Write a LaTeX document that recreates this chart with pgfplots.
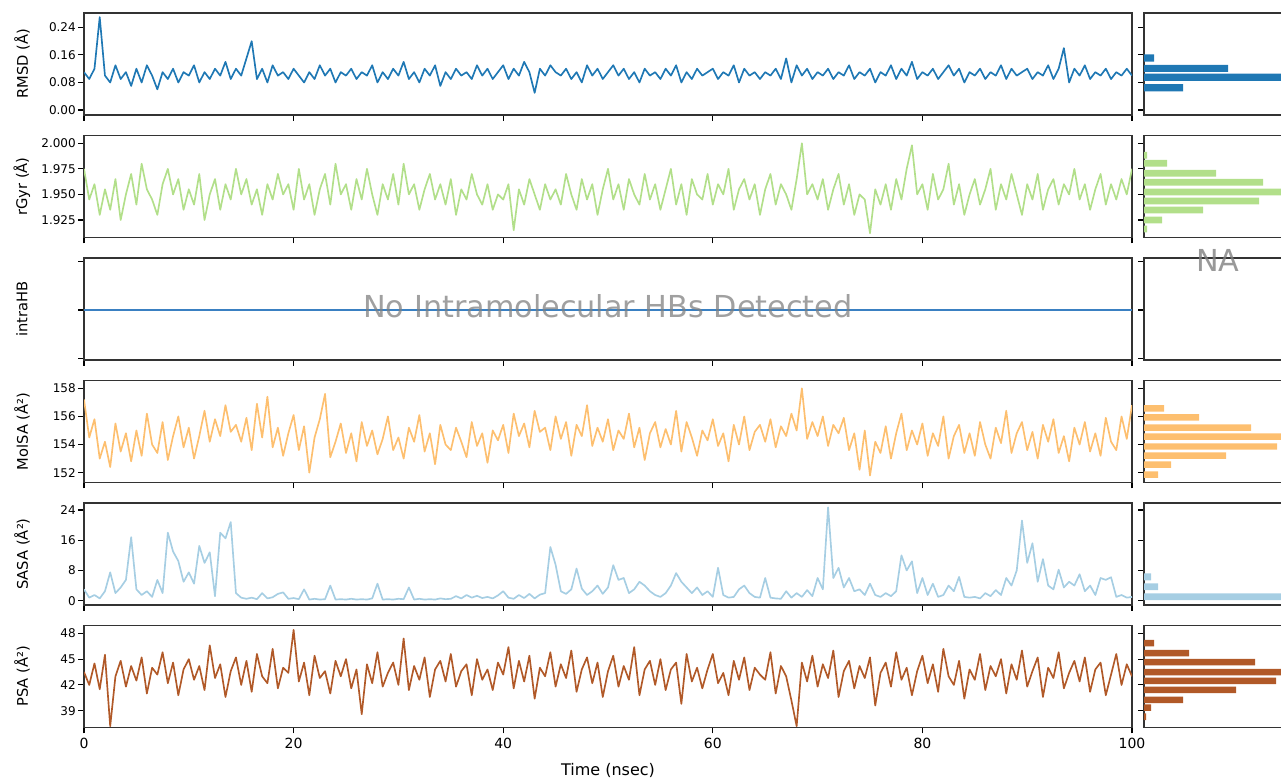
\documentclass[border=0pt]{standalone}
\usepackage{pgfplots}
\pgfplotsset{compat=1.18}
\usepackage{fontspec}
\setmainfont{DejaVu Sans}
\definecolor{cRMSD}{HTML}{1F78B4}
\definecolor{cGyr}{HTML}{B2DF8A}
\definecolor{cHB}{HTML}{3A80C2}
\definecolor{cMol}{HTML}{FDBF6F}
\definecolor{cSASA}{HTML}{A6CEE3}
\definecolor{cPSA}{HTML}{B15928}
\pgfplotsset{
 common/.style={scale only axis, height=76.5pt, anchor=north west,
   tick align=outside, major tick length=4.5pt,
   axis line style={line width=0.9pt, black!80},
   every tick/.style={line width=0.8pt, black},
   /pgf/number format/assume math mode=true,
   yticklabel style={font=\fontsize{9}{10}\selectfont, inner sep=1.5pt}},
 mainpanel/.style={common, width=786pt, xmin=0, xmax=100,
   xtick={0,20,40,60,80,100}, xticklabels={}, xtick pos=left, ytick pos=left,
   ylabel style={at={(axis description cs:-0.0592,0.5)}, anchor=center, font=\fontsize{11}{12}\selectfont}},
 histpanel/.style={common, width=139.5pt, xmin=0, xmax=186, xtick=\empty,
   yticklabels={}, ytick pos=left},
 dat/.style={line width=1.25pt, line join=round},
}
\begin{document}
\begin{tikzpicture}
% ---------------- RMSD
\begin{axis}[mainpanel, at={(63pt,573.75pt)}, ymin=-0.0145, ymax=0.282,
  ytick={0,0.08,0.16,0.24}, yticklabels={0.00,0.08,0.16,0.24}, ylabel={RMSD (Å)}]
\addplot[dat, cRMSD] table[x expr=\coordindex*0.5, y index=0, header=false, row sep=\\] {
0.11\\0.09\\0.12\\0.27\\0.10\\0.08\\0.13\\0.09\\0.11\\0.07\\
0.12\\0.08\\0.13\\0.10\\0.06\\0.11\\0.09\\0.12\\0.08\\0.11\\
0.10\\0.13\\0.08\\0.11\\0.09\\0.12\\0.10\\0.14\\0.09\\0.12\\
0.10\\0.15\\0.20\\0.09\\0.12\\0.08\\0.13\\0.10\\0.11\\0.09\\
0.12\\0.10\\0.08\\0.11\\0.09\\0.13\\0.10\\0.12\\0.08\\0.11\\
0.10\\0.12\\0.09\\0.11\\0.10\\0.13\\0.08\\0.11\\0.09\\0.12\\
0.10\\0.14\\0.09\\0.11\\0.08\\0.12\\0.10\\0.13\\0.07\\0.11\\
0.09\\0.12\\0.10\\0.11\\0.09\\0.13\\0.10\\0.12\\0.09\\0.11\\
0.13\\0.09\\0.12\\0.10\\0.14\\0.11\\0.05\\0.12\\0.10\\0.13\\
0.11\\0.10\\0.12\\0.09\\0.11\\0.08\\0.13\\0.10\\0.12\\0.09\\
0.11\\0.13\\0.10\\0.12\\0.09\\0.11\\0.08\\0.12\\0.10\\0.11\\
0.09\\0.12\\0.10\\0.13\\0.08\\0.11\\0.09\\0.12\\0.10\\0.11\\
0.12\\0.09\\0.11\\0.10\\0.13\\0.08\\0.12\\0.10\\0.11\\0.09\\
0.11\\0.10\\0.12\\0.09\\0.15\\0.08\\0.13\\0.10\\0.12\\0.09\\
0.11\\0.10\\0.12\\0.09\\0.11\\0.10\\0.13\\0.09\\0.11\\0.10\\
0.12\\0.08\\0.11\\0.10\\0.13\\0.09\\0.12\\0.10\\0.14\\0.09\\
0.11\\0.10\\0.12\\0.09\\0.11\\0.13\\0.10\\0.12\\0.08\\0.11\\
0.10\\0.12\\0.09\\0.11\\0.10\\0.13\\0.09\\0.12\\0.10\\0.11\\
0.12\\0.09\\0.11\\0.10\\0.13\\0.09\\0.12\\0.18\\0.08\\0.12\\
0.10\\0.13\\0.09\\0.11\\0.10\\0.12\\0.09\\0.11\\0.10\\0.12\\0.10\\
};
\end{axis}
\begin{axis}[histpanel, at={(858pt,573.75pt)}, ymin=-0.0145, ymax=0.282, ytick={0,0.08,0.16,0.24}]
\addplot[xbar, bar width=0.021, fill=cRMSD, draw=none] coordinates {(10,0.151) (84,0.121) (190,0.095) (39,0.065)};
\end{axis}
% ---------------- rGyr
\begin{axis}[mainpanel, at={(63pt,481.875pt)}, ymin=1.9079, ymax=2.0076,
  ytick={1.925,1.95,1.975,2.0}, yticklabels={1.925,1.950,1.975,2.000}, ylabel={rGyr (Å)}]
\addplot[dat, cGyr] table[x expr=\coordindex*0.5, y index=0, header=false, row sep=\\] {
1.975\\1.945\\1.960\\1.930\\1.955\\1.935\\1.965\\1.925\\1.950\\1.970\\
1.940\\1.980\\1.955\\1.945\\1.930\\1.960\\1.975\\1.950\\1.965\\1.935\\
1.955\\1.940\\1.970\\1.925\\1.950\\1.965\\1.935\\1.960\\1.945\\1.975\\
1.950\\1.965\\1.940\\1.955\\1.930\\1.960\\1.945\\1.970\\1.950\\1.960\\
1.935\\1.975\\1.945\\1.960\\1.930\\1.955\\1.970\\1.940\\1.980\\1.950\\
1.960\\1.935\\1.965\\1.945\\1.975\\1.950\\1.930\\1.960\\1.945\\1.970\\
1.940\\1.980\\1.950\\1.960\\1.935\\1.955\\1.970\\1.945\\1.960\\1.940\\
1.965\\1.930\\1.955\\1.945\\1.970\\1.950\\1.940\\1.960\\1.935\\1.950\\
1.945\\1.960\\1.915\\1.955\\1.940\\1.965\\1.950\\1.935\\1.960\\1.945\\
1.955\\1.940\\1.970\\1.950\\1.935\\1.965\\1.945\\1.960\\1.930\\1.955\\
1.975\\1.945\\1.960\\1.935\\1.965\\1.950\\1.940\\1.970\\1.945\\1.960\\
1.935\\1.955\\1.975\\1.940\\1.960\\1.930\\1.965\\1.950\\1.945\\1.970\\
1.940\\1.960\\1.950\\1.975\\1.935\\1.955\\1.965\\1.945\\1.960\\1.930\\
1.955\\1.970\\1.940\\1.960\\1.950\\1.935\\1.965\\2.000\\1.950\\1.960\\
1.945\\1.965\\1.935\\1.955\\1.970\\1.940\\1.960\\1.930\\1.950\\1.945\\
1.912\\1.955\\1.940\\1.960\\1.935\\1.965\\1.945\\1.975\\1.998\\1.950\\
1.960\\1.935\\1.970\\1.945\\1.955\\1.980\\1.940\\1.960\\1.930\\1.950\\
1.965\\1.940\\1.955\\1.975\\1.935\\1.960\\1.945\\1.970\\1.950\\1.930\\
1.960\\1.945\\1.970\\1.935\\1.955\\1.965\\1.940\\1.960\\1.950\\1.975\\
1.945\\1.960\\1.935\\1.955\\1.970\\1.940\\1.960\\1.945\\1.965\\1.950\\1.975\\
};
\end{axis}
\begin{axis}[histpanel, at={(858pt,481.875pt)}, ymin=1.9079, ymax=2.0076, ytick={1.925,1.95,1.975,2.0}]
\addplot[xbar, bar width=0.0066, fill=cGyr, draw=none] coordinates {(3,1.9883) (23,1.9805) (72,1.9708) (119,1.962) (190,1.9523) (115,1.9436) (59,1.9348) (18,1.925) (3,1.9163)};
\end{axis}
% ---------------- intraHB
\begin{axis}[mainpanel, at={(63pt,390pt)}, ymin=-1.035, ymax=1.077,
  ytick={-1,0,1}, yticklabels={}, ylabel={intraHB}]
\addplot[line width=1.1pt, cHB] coordinates {(0,0) (100,0)};
\node[text=gray, text opacity=0.75, font=\fontsize{22.7}{24}\selectfont, inner sep=0pt] at (axis description cs:0.5,0.53) {No Intramolecular HBs Detected};
\end{axis}
\begin{axis}[histpanel, at={(858pt,390pt)}, ymin=-1.035, ymax=1.077, ytick={-1,0,1}, clip=false]
\node[text=gray, text opacity=0.8, font=\fontsize{22.7}{24}\selectfont, inner sep=0pt] at (axis cs:74,1.02) {NA};
\end{axis}
% ---------------- MolSA
\begin{axis}[mainpanel, at={(63pt,298.125pt)}, ymin=151.30, ymax=158.555,
  ytick={152,154,156,158}, ylabel={MolSA (Å²)}]
\addplot[dat, cMol] table[x expr=\coordindex*0.5, y index=0, header=false, row sep=\\] {
157.2\\154.5\\155.8\\153.0\\154.2\\152.4\\155.5\\153.5\\154.8\\152.8\\
155.0\\153.2\\156.2\\154.0\\153.4\\155.6\\152.9\\154.6\\156.0\\153.8\\
155.2\\153.0\\154.6\\156.4\\154.2\\155.8\\154.6\\156.8\\154.9\\155.4\\
154.2\\155.9\\153.6\\156.9\\154.5\\157.4\\153.8\\155.2\\153.2\\154.8\\
156.1\\153.6\\155.3\\152.0\\154.5\\155.8\\157.6\\153.1\\154.2\\155.5\\
153.4\\154.8\\152.8\\155.6\\153.9\\155.0\\153.3\\154.4\\156.0\\153.6\\
154.5\\153.0\\155.2\\154.2\\156.1\\153.5\\154.8\\152.6\\155.4\\154.0\\
153.6\\155.2\\154.2\\153.1\\155.6\\153.9\\154.8\\152.7\\155.0\\154.3\\
155.4\\153.4\\156.2\\154.6\\155.5\\153.8\\156.4\\154.9\\155.2\\153.6\\
156.0\\154.4\\155.6\\153.2\\155.4\\154.6\\156.8\\153.9\\155.2\\154.2\\
155.8\\153.6\\155.0\\154.4\\156.2\\153.8\\155.2\\152.9\\154.8\\155.6\\
153.8\\155.1\\154.0\\156.4\\153.5\\155.6\\154.5\\153.2\\155.0\\154.3\\
155.8\\153.9\\154.8\\152.8\\155.4\\154.0\\156.0\\153.6\\154.9\\155.4\\
154.2\\155.8\\153.8\\155.3\\154.6\\156.2\\155.0\\158.0\\154.4\\155.6\\
154.6\\156.0\\153.9\\155.4\\154.8\\155.9\\153.6\\154.8\\152.2\\155.0\\
151.8\\154.2\\153.4\\155.3\\153.0\\154.8\\156.2\\153.6\\155.0\\154.0\\
155.5\\153.2\\154.8\\153.9\\156.0\\153.0\\154.6\\155.4\\153.4\\154.8\\
153.2\\155.6\\154.0\\153.0\\155.2\\154.1\\156.4\\153.4\\154.8\\155.6\\
153.6\\154.9\\153.0\\155.4\\154.2\\155.8\\153.4\\154.6\\152.8\\155.2\\
154.0\\155.6\\153.5\\154.8\\153.2\\155.9\\154.2\\153.6\\156.0\\154.4\\156.8\\
};
\end{axis}
\begin{axis}[histpanel, at={(858pt,298.125pt)}, ymin=151.30, ymax=158.555, ytick={152,154,156,158}]
\addplot[xbar, bar width=0.46, fill=cMol, draw=none] coordinates {(20,156.57) (55,155.93) (107,155.21) (190,154.57) (133,153.86) (82,153.21) (27,152.57) (14,151.86)};
\end{axis}
% ---------------- SASA
\begin{axis}[mainpanel, at={(63pt,206.25pt)}, ymin=-1.14, ymax=25.85,
  ytick={0,8,16,24}, ylabel={SASA (Å²)}]
\addplot[dat, cSASA] table[x expr=\coordindex*0.5, y index=0, header=false, row sep=\\] {
3.0\\0.8\\1.5\\0.6\\2.5\\7.5\\2.0\\3.5\\5.5\\16.8\\
3.0\\1.5\\2.5\\1.0\\5.5\\2.0\\18.0\\13.0\\10.5\\5.0\\
7.5\\4.5\\14.5\\10.0\\12.8\\1.2\\18.0\\16.5\\20.8\\2.0\\
0.8\\0.5\\0.8\\0.4\\2.0\\0.6\\0.9\\1.8\\2.2\\0.5\\
0.7\\0.4\\3.0\\0.3\\0.5\\0.3\\0.4\\4.0\\0.3\\0.4\\
0.3\\0.5\\0.3\\0.4\\0.3\\0.6\\4.5\\0.3\\0.4\\0.3\\
0.5\\0.4\\3.5\\0.3\\0.5\\0.3\\0.4\\0.3\\0.6\\0.4\\
0.5\\1.2\\0.6\\1.5\\0.8\\1.3\\0.7\\1.0\\0.6\\1.4\\
2.5\\0.8\\0.5\\1.5\\0.7\\1.8\\0.6\\1.6\\2.0\\14.2\\
9.5\\2.5\\1.8\\3.0\\8.5\\3.2\\1.5\\2.5\\4.0\\1.8\\
3.5\\9.4\\5.5\\6.0\\2.0\\3.0\\5.0\\4.0\\2.5\\1.5\\
1.0\\2.0\\4.0\\7.3\\5.0\\3.5\\2.0\\3.5\\1.5\\2.5\\
1.0\\8.7\\1.5\\0.8\\1.0\\3.0\\4.0\\2.0\\1.0\\0.8\\
6.0\\0.8\\0.6\\0.5\\2.5\\0.8\\2.0\\1.0\\2.8\\1.2\\
6.0\\3.0\\24.7\\6.0\\8.7\\3.5\\6.0\\2.5\\3.0\\1.5\\
4.5\\1.5\\1.0\\2.0\\1.2\\2.5\\12.0\\8.0\\10.4\\2.0\\
6.0\\1.5\\4.5\\1.0\\1.5\\4.0\\2.5\\6.3\\1.0\\0.8\\
1.0\\0.6\\2.0\\1.2\\2.8\\1.5\\6.0\\4.0\\8.0\\21.2\\
10.0\\15.2\\5.0\\11.0\\4.0\\3.0\\8.2\\3.5\\5.0\\4.0\\
7.0\\2.5\\4.0\\1.5\\6.0\\5.5\\6.2\\1.0\\1.5\\0.8\\1.0\\
};
\end{axis}
\begin{axis}[histpanel, at={(858pt,206.25pt)}, ymin=-1.14, ymax=25.85, ytick={0,8,16,24}]
\addplot[xbar, bar width=1.8, fill=cSASA, draw=none] coordinates {(7,6.3) (14,3.7) (190,1.05)};
\end{axis}
% ---------------- PSA
\begin{axis}[mainpanel, at={(63pt,114.375pt)}, ymin=37.05, ymax=48.91,
  ytick={39,42,45,48}, ylabel={PSA (Å²)},
  xticklabels={0,20,40,60,80,100},
  xticklabel style={font=\fontsize{10.5}{12}\selectfont},
  xlabel={Time (nsec)},
  xlabel style={at={(axis description cs:0.5,-0.35)}, anchor=north, inner sep=0pt, font=\fontsize{12}{14}\selectfont}]
\addplot[dat, cPSA] table[x expr=\coordindex*0.5, y index=0, header=false, row sep=\\] {
43.5\\42.0\\44.5\\41.5\\45.5\\37.2\\43.0\\44.8\\41.8\\44.2\\
42.5\\45.2\\41.0\\44.0\\43.2\\45.8\\42.2\\44.6\\40.8\\43.8\\
45.0\\42.6\\44.2\\41.4\\46.6\\42.8\\44.4\\40.6\\43.6\\45.2\\
42.0\\44.8\\41.2\\45.6\\43.0\\42.2\\46.2\\41.6\\44.0\\43.4\\
48.4\\42.4\\44.6\\40.8\\45.4\\42.8\\43.6\\41.0\\44.8\\43.0\\
45.0\\41.6\\43.8\\38.6\\44.4\\42.2\\45.8\\41.8\\43.4\\44.6\\
42.0\\47.4\\41.4\\44.2\\42.6\\45.2\\40.6\\43.8\\44.8\\42.4\\
45.6\\41.8\\43.6\\44.4\\40.8\\45.0\\42.6\\43.8\\41.4\\44.6\\
43.2\\46.4\\41.6\\44.8\\42.4\\45.4\\40.4\\44.0\\43.0\\45.8\\
41.8\\44.4\\42.8\\46.0\\41.2\\43.8\\45.2\\42.2\\44.6\\40.6\\
43.6\\45.4\\41.8\\44.2\\42.6\\46.4\\40.8\\43.8\\44.8\\42.0\\
45.0\\41.4\\43.8\\44.6\\39.8\\45.6\\42.4\\44.0\\41.6\\43.8\\
45.6\\42.2\\43.4\\40.8\\44.8\\42.6\\45.2\\41.4\\44.0\\43.2\\
42.6\\45.8\\41.0\\44.2\\43.0\\40.2\\37.2\\44.6\\42.4\\45.4\\
41.8\\44.4\\42.8\\46.0\\40.6\\43.6\\44.8\\41.6\\44.2\\42.8\\
45.2\\39.6\\43.4\\44.6\\41.8\\45.8\\42.6\\44.0\\40.8\\43.6\\
45.4\\42.2\\44.4\\41.2\\46.2\\43.0\\42.0\\44.8\\40.4\\43.8\\
42.6\\45.6\\41.4\\44.2\\43.0\\45.0\\41.0\\44.4\\42.6\\46.0\\
41.8\\43.6\\45.2\\40.6\\44.0\\42.8\\45.8\\41.6\\43.4\\44.8\\
42.4\\45.2\\41.2\\43.8\\44.6\\40.8\\43.2\\45.6\\42.0\\44.4\\43.0\\
};
\end{axis}
\begin{axis}[histpanel, at={(858pt,114.375pt)}, ymin=37.05, ymax=48.91, ytick={39,42,45,48}]
\addplot[xbar, bar width=0.76, fill=cPSA, draw=none] coordinates {(10,46.85) (45,45.69) (111,44.65) (190,43.5) (132,42.46) (92,41.42) (39,40.27) (7,39.35) (2,38.3)};
\end{axis}
\pgfresetboundingbox
\useasboundingbox (0,0) rectangle (960.75pt,583.5pt);
\end{tikzpicture}
\end{document}
